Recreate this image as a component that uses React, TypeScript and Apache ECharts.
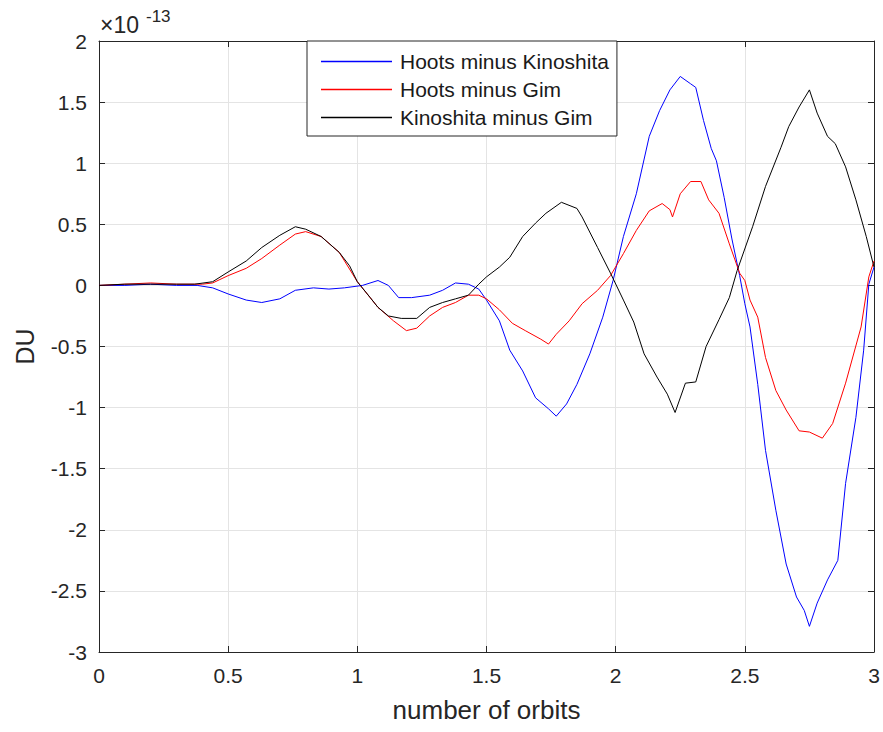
import { useEffect, useRef } from "react";
import * as echarts from "echarts";

// Values in units of 1e-13 DU, x in number of orbits
const hootsMinusKinoshita: [number, number][] = [
  [0, 0], [0.1, 0.0], [0.2, 0.01], [0.3, 0.0], [0.38, 0.0], [0.44, -0.02], [0.5, -0.07],
  [0.57, -0.12], [0.63, -0.14], [0.7, -0.11], [0.76, -0.04], [0.83, -0.02], [0.89, -0.03],
  [0.95, -0.02], [1.02, 0.0], [1.08, 0.04], [1.12, 0.0], [1.16, -0.1], [1.21, -0.1],
  [1.28, -0.08], [1.33, -0.04], [1.38, 0.02], [1.43, 0.01], [1.47, -0.03], [1.5, -0.12],
  [1.55, -0.29], [1.59, -0.53], [1.64, -0.7], [1.69, -0.92], [1.74, -1.01], [1.77, -1.07],
  [1.81, -0.97], [1.85, -0.81], [1.9, -0.56], [1.95, -0.26], [1.99, 0.04], [2.03, 0.4],
  [2.08, 0.75], [2.13, 1.22], [2.17, 1.43], [2.21, 1.6], [2.25, 1.71], [2.29, 1.65],
  [2.31, 1.62], [2.34, 1.35], [2.37, 1.12], [2.39, 1.02], [2.42, 0.72], [2.45, 0.38],
  [2.48, 0.08], [2.5, -0.15], [2.52, -0.34], [2.55, -0.81], [2.58, -1.35], [2.62, -1.84],
  [2.66, -2.28], [2.7, -2.55], [2.73, -2.66], [2.75, -2.79], [2.78, -2.6], [2.82, -2.41],
  [2.86, -2.25], [2.89, -1.62], [2.93, -1.08], [2.96, -0.53], [2.98, 0.01], [3.0, 0.15],
];

const hootsMinusGim: [number, number][] = [
  [0, 0], [0.1, 0.01], [0.2, 0.02], [0.3, 0.01], [0.4, 0.01], [0.44, 0.02], [0.5, 0.08],
  [0.57, 0.14], [0.63, 0.22], [0.7, 0.33], [0.76, 0.42], [0.8, 0.44], [0.86, 0.4],
  [0.93, 0.27], [1.0, 0.03], [1.08, -0.18], [1.14, -0.29], [1.19, -0.37], [1.23, -0.35],
  [1.28, -0.25], [1.33, -0.18], [1.38, -0.14], [1.43, -0.08], [1.47, -0.08], [1.5, -0.11],
  [1.55, -0.2], [1.6, -0.31], [1.65, -0.37], [1.71, -0.44], [1.74, -0.48], [1.77, -0.4],
  [1.82, -0.29], [1.87, -0.15], [1.93, -0.04], [1.98, 0.08], [2.03, 0.26], [2.08, 0.45],
  [2.13, 0.61], [2.18, 0.67], [2.21, 0.62], [2.22, 0.56], [2.25, 0.75], [2.29, 0.85],
  [2.33, 0.85], [2.36, 0.7], [2.4, 0.59], [2.44, 0.34], [2.48, 0.1], [2.5, 0.04],
  [2.52, -0.12], [2.55, -0.26], [2.58, -0.59], [2.62, -0.86], [2.66, -1.02], [2.71, -1.19],
  [2.75, -1.2], [2.8, -1.25], [2.84, -1.13], [2.89, -0.8], [2.95, -0.34], [2.98, 0.07],
  [3.0, 0.2],
];

const kinoshitaMinusGim: [number, number][] = [
  [0, 0], [0.1, 0.01], [0.2, 0.01], [0.3, 0.01], [0.37, 0.01], [0.44, 0.03], [0.5, 0.11],
  [0.57, 0.2], [0.63, 0.31], [0.7, 0.41], [0.76, 0.48], [0.8, 0.46], [0.86, 0.4],
  [0.93, 0.27], [0.97, 0.16], [1.0, 0.03], [1.05, -0.1], [1.08, -0.18], [1.12, -0.25],
  [1.17, -0.27], [1.23, -0.27], [1.28, -0.18], [1.33, -0.14], [1.38, -0.11], [1.43, -0.08],
  [1.47, 0.01], [1.5, 0.07], [1.55, 0.15], [1.59, 0.23], [1.64, 0.4], [1.69, 0.51],
  [1.73, 0.59], [1.79, 0.68], [1.85, 0.63], [1.87, 0.56], [1.93, 0.31], [1.98, 0.1],
  [2.03, -0.12], [2.07, -0.3], [2.11, -0.56], [2.16, -0.75], [2.2, -0.89], [2.23, -1.04],
  [2.27, -0.8], [2.31, -0.79], [2.35, -0.5], [2.4, -0.28], [2.44, -0.1], [2.47, 0.12],
  [2.53, 0.48], [2.58, 0.81], [2.64, 1.13], [2.67, 1.3], [2.71, 1.46], [2.75, 1.6],
  [2.78, 1.41], [2.82, 1.22], [2.85, 1.16], [2.89, 0.97], [2.93, 0.7], [2.97, 0.4],
  [3.0, 0.15],
];

const seriesNames = ["Hoots minus Kinoshita", "Hoots minus Gim", "Kinoshita minus Gim"];
const seriesColors = ["#0000ff", "#ff0000", "#000000"];
const seriesData = [hootsMinusKinoshita, hootsMinusGim, kinoshitaMinusGim];

const xAxisTitle = "number of orbits";
const yAxisTitle = "DU";
const exponentBase = "×10";
const exponentPower = "-13";

const FONT = "'Liberation Sans', Arial, Helvetica, sans-serif";
const AXIS_COLOR = "#262626";
const GRID_COLOR = "#e4e4e4";

export default function App() {
  const ref = useRef<HTMLDivElement>(null);

  useEffect(() => {
    if (!ref.current) return;
    const chart = echarts.init(ref.current, undefined, { renderer: "svg" });

    const axisCommon = {
      type: "value" as const,
      axisLine: { show: true, onZero: false, lineStyle: { color: AXIS_COLOR, width: 1 } },
      axisTick: { show: true, inside: true, length: 6, lineStyle: { color: AXIS_COLOR, width: 1 } },
    };

    chart.setOption({
      animation: false,
      backgroundColor: "#ffffff",
      textStyle: { fontFamily: FONT },
      grid: { left: 99, right: 9, top: 41, bottom: 80, containLabel: false },
      xAxis: [
        {
          ...axisCommon,
          position: "bottom",
          min: 0,
          max: 3,
          interval: 0.5,
          axisLabel: { fontSize: 21, color: AXIS_COLOR, margin: 13, fontFamily: FONT },
          splitLine: { show: true, lineStyle: { color: GRID_COLOR, width: 1 } },
          name: xAxisTitle,
          nameLocation: "middle",
          nameGap: 45,
          nameTextStyle: { fontSize: 26, color: AXIS_COLOR, fontFamily: FONT },
        },
        {
          ...axisCommon,
          position: "top",
          min: 0,
          max: 3,
          interval: 0.5,
          axisLabel: { show: false },
          splitLine: { show: false },
        },
      ],
      yAxis: [
        {
          ...axisCommon,
          position: "left",
          min: -3,
          max: 2,
          interval: 0.5,
          axisLabel: { fontSize: 21, color: AXIS_COLOR, margin: 12, fontFamily: FONT },
          splitLine: { show: true, lineStyle: { color: GRID_COLOR, width: 1 } },
          name: yAxisTitle,
          nameLocation: "middle",
          nameGap: 62,
          nameRotate: 90,
          nameTextStyle: { fontSize: 25, color: AXIS_COLOR, fontFamily: FONT },
        },
        {
          ...axisCommon,
          position: "right",
          min: -3,
          max: 2,
          interval: 0.5,
          axisLabel: { show: false },
          splitLine: { show: false },
        },
      ],
      legend: {
        show: true,
        orient: "vertical",
        left: 307,
        top: 41,
        icon: "rect",
        itemWidth: 71,
        itemHeight: 1.5,
        itemGap: 7,
        padding: [10, 8, 8, 14],
        backgroundColor: "#ffffff",
        borderColor: AXIS_COLOR,
        borderWidth: 1,
        borderRadius: 0,
        textStyle: { fontSize: 21, color: "#1a1a1a", fontFamily: FONT, padding: [0, 0, 0, 3] },
        data: seriesNames,
      },
      graphic: [
        {
          type: "text",
          left: 100,
          top: 13,
          style: { text: exponentBase, fontSize: 23, fill: AXIS_COLOR, fontFamily: FONT },
        },
        {
          type: "text",
          left: 146,
          top: 8,
          style: { text: exponentPower, fontSize: 17, fill: AXIS_COLOR, fontFamily: FONT },
        },
      ],
      series: seriesData.map((d, i) => ({
        type: "line",
        name: seriesNames[i],
        data: d,
        xAxisIndex: 0,
        yAxisIndex: 0,
        showSymbol: false,
        symbol: "none",
        color: seriesColors[i],
        lineStyle: { color: seriesColors[i], width: 1 },
        z: 2 + i,
      })),
    });

    return () => chart.dispose();
  }, []);

  return (
    <div
      ref={ref}
      style={{ position: "fixed", left: 0, top: 0, width: 883, height: 732, background: "#fff" }}
    />
  );
}
